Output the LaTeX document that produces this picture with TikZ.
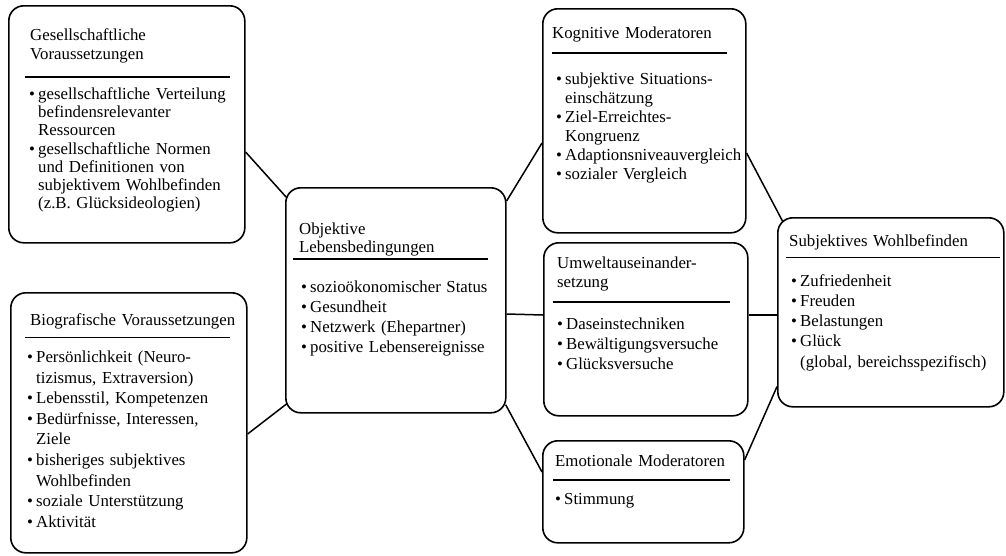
\documentclass[tikz,border=0pt]{standalone}
\usepackage{fontspec}
\setmainfont{Liberation Serif}
\newcommand{\pkt}{\makebox[9pt][l]{\textbullet}}
\newcommand{\ein}{\hspace*{9pt}}
\tikzset{
  kasten/.style={draw, line width=1.6pt, rounded corners=15pt, anchor=north west, inner sep=0pt},
  kopf/.style={anchor=base west, inner sep=0pt, text width=240pt, align=left, font={\fontsize{16.8}{19.5}\selectfont}},
  liste/.style={anchor=base west, inner sep=0pt, text width=240pt, align=left, font={\fontsize{16.8}{20.3}\selectfont}},
  strich/.style={line width=1.6pt},
  verb/.style={line width=1.5pt}
}
\begin{document}
\begin{tikzpicture}[x=1pt,y=-1pt]
      \useasboundingbox (0,0) rectangle (1006,555);
      \node[kasten, minimum width=236, minimum height=237] (ges) at (8,5) {};
      \node[kasten, minimum width=236, minimum height=260] (bio) at (10,292) {};
      \node[kasten, minimum width=220, minimum height=225] (obj) at (285,187) {};
      \node[kasten, minimum width=203, minimum height=224] (kog) at (542,8) {};
      \node[kasten, minimum width=204, minimum height=173] (umw) at (543,242) {};
      \node[kasten, minimum width=201, minimum height=102] (emo) at (542,440) {};
      \node[kasten, minimum width=226, minimum height=189] (sub) at (777,217) {};
      \node[kopf, font={\fontsize{16.8}{18.5}\selectfont}] (ges-k) at (30,40.5) {Gesellschaftliche\\Voraussetzungen};
      \draw[strich] (25,77) -- (230,77);
      \node[liste, font={\fontsize{16.8}{18.2}\selectfont}] (ges-l) at (29,99.5)
        {\pkt gesellschaftliche Verteilung\\\ein befindensrelevanter\\\ein Ressourcen\\\pkt gesellschaftliche Normen\\\ein und Definitionen von\\\ein subjektivem Wohlbefinden\\\ein (z.B. Glücksideologien)};
      \node[kopf] (bio-k) at (30,325) {Biografische Voraussetzungen};
      \draw[strich] (25,337.3) -- (230,337.3);
      \node[liste, font={\fontsize{16.8}{20.6}\selectfont}] (bio-l) at (27,362.5)
        {\pkt Persönlichkeit (Neuro-\\\ein tizismus, Extraversion)\\\pkt Lebensstil, Kompetenzen\\\pkt Bedürfnisse, Interessen,\\\ein Ziele\\\pkt bisheriges subjektives\\\ein Wohlbefinden\\\pkt soziale Unterstützung\\\pkt Aktivität};
      \node[kopf, font={\fontsize{16.8}{18}\selectfont}] (obj-k) at (299,234.4) {Objektive\\Lebensbedingungen};
      \draw[strich] (293,259) -- (488,259);
      \node[liste] (obj-l) at (301,292)
        {\pkt sozioökonomischer Status\\\pkt Gesundheit\\\pkt Netzwerk (Ehepartner)\\\pkt positive Lebensereignisse};
      \node[kopf] (kog-k) at (552,38) {Kognitive Moderatoren};
      \draw[strich] (552,53) -- (727,53);
      \node[liste, font={\fontsize{16.8}{19.1}\selectfont}] (kog-l) at (556,84)
        {\pkt subjektive Situations-\\\ein einschätzung\\\pkt Ziel-Erreichtes-\\\ein Kongruenz\\\pkt Adaptionsniveauvergleich\\\pkt sozialer Vergleich};
      \node[kopf] (umw-k) at (557,268) {Umweltauseinander-\\setzung};
      \draw[strich] (553,301.7) -- (730,301.7);
      \node[liste, font={\fontsize{16.8}{20}\selectfont}] (umw-l) at (557,329)
        {\pkt Daseinstechniken\\\pkt Bewältigungsversuche\\\pkt Glücksversuche};
      \node[kopf] (emo-k) at (555,466.7) {Emotionale Moderatoren};
      \draw[strich] (553,480) -- (730,480);
      \node[liste] (emo-l) at (555,504) {\pkt Stimmung};
      \node[kopf] (sub-k) at (789,246.7) {Subjektives Wohlbefinden};
      \draw[strich] (786,257.3) -- (1000,257.3);
      \node[liste] (sub-l) at (791,286)
        {\pkt Zufriedenheit\\\pkt Freuden\\\pkt Belastungen\\\pkt Glück\\\ein (global, bereichsspezifisch)};
      \begin{scope}[verb]
        \draw ([shift={(0,147)}]ges.north east) to ([shift={(2,11)}]obj.north west);
        \draw ([shift={(0,142)}]bio.north east) to ([shift={(2,-10)}]obj.south west);
        \draw ([shift={(0,14)}]obj.north east) to ([shift={(0,135)}]kog.north west);
        \draw ([shift={(0,127)}]obj.north east) to ([shift={(0,73)}]umw.north west);
        \draw ([shift={(-1,-9)}]obj.south east) to ([shift={(0,32)}]emo.north west);
        \draw ([shift={(0,145)}]kog.north east) to ([shift={(6,5)}]sub.north west);
        \draw ([shift={(0,73)}]umw.north east) to ([shift={(0,98)}]sub.north west);
        \draw ([shift={(0,20)}]emo.north east) to ([shift={(0,-21)}]sub.south west);
      \end{scope}
    \end{tikzpicture}
\end{document}
